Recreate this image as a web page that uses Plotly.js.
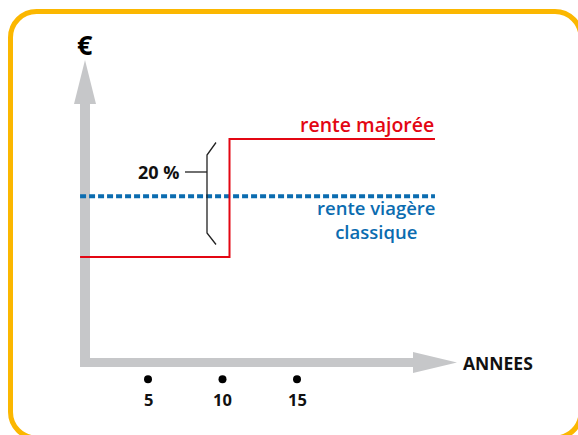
<!DOCTYPE html>
<html>
<head>
<meta charset="utf-8">
<script src="https://cdn.plot.ly/plotly-3.0.1.min.js"></script>
<style>html,body{margin:0;padding:0;background:#fff;}#chart{width:578px;height:435px;}</style>
</head>
<body>
<div id="chart"></div>
<script>
// ---- data ----
const tickYears = [5, 10, 15];
const tickLabels = ['5', '10', '15'];
const majoreeYears = [0.44, 10.47, 24.26];
const majoreeValues = [100, 120, 120];
const classiqueYears = [0.44, 24.26];
const classiqueValues = [110.3, 110.3];
const majoreeName = 'rente majorée';
const classiqueNameLines = ['rente viagère', 'classique'];
const axisLabels = ['€', 'ANNEES'];
const increaseLabel = '20 %';

// ---- layout helpers (pixel -> paper) ----
const W = 578, H = 435;
const px = x => x / W;
const py = y => 1 - y / H;
const FONT = '"Open Sans", "Noto Sans", sans-serif';
const RED = '#e30613', BLUE = '#0b6cb0', GREY = '#c6c7c9', ORANGE = '#fbb700';

function pathPx(pts, close) {
  return 'M' + pts.map(p => px(p[0]).toFixed(5) + ',' + py(p[1]).toFixed(5)).join(' L') + (close ? ' Z' : '');
}
function roundRect(l, t, r, b, rad) {
  const k = 0.5523 * rad;
  const P = (x, y) => px(x).toFixed(5) + ',' + py(y).toFixed(5);
  return 'M' + P(l + rad, t) + ' L' + P(r - rad, t) +
    ' C' + P(r - rad + k, t) + ' ' + P(r, t + rad - k) + ' ' + P(r, t + rad) +
    ' L' + P(r, b - rad) +
    ' C' + P(r, b - rad + k) + ' ' + P(r - rad + k, b) + ' ' + P(r - rad, b) +
    ' L' + P(l + rad, b) +
    ' C' + P(l + rad - k, b) + ' ' + P(l, b - rad + k) + ' ' + P(l, b - rad) +
    ' L' + P(l, t + rad) +
    ' C' + P(l, t + rad - k) + ' ' + P(l + rad - k, t) + ' ' + P(l + rad, t) + ' Z';
}

const dotLevel = 79.3;

const traces = [
  {x: classiqueYears, y: classiqueValues, mode: 'lines', type: 'scatter',
   line: {color: BLUE, width: 4, dash: '6px,3px'}, hoverinfo: 'skip'},
  {x: majoreeYears, y: majoreeValues, mode: 'lines', type: 'scatter',
   line: {color: RED, width: 2, shape: 'hv'}, hoverinfo: 'skip'},
  {x: tickYears, y: tickYears.map(() => dotLevel), mode: 'markers', type: 'scatter',
   marker: {color: '#000', size: 8}, hoverinfo: 'skip'}
];

const shapes = [
  {type: 'path', xref: 'paper', yref: 'paper', path: roundRect(10.5, 11.5, 581, 438, 26),
   line: {color: ORANGE, width: 5}, fillcolor: 'rgba(0,0,0,0)', layer: 'below'},
  // y axis arrow
  {type: 'path', xref: 'paper', yref: 'paper', path: pathPx([[80,103],[90,103],[90,367],[80,367]], true),
   line: {width: 0}, fillcolor: GREY, layer: 'below'},
  {type: 'path', xref: 'paper', yref: 'paper', path: pathPx([[74,104],[85,60],[96,104]], true),
   line: {width: 0}, fillcolor: GREY, layer: 'below'},
  // x axis arrow
  {type: 'path', xref: 'paper', yref: 'paper', path: pathPx([[80,358],[414,358],[414,367],[80,367]], true),
   line: {width: 0}, fillcolor: GREY, layer: 'below'},
  {type: 'path', xref: 'paper', yref: 'paper', path: pathPx([[413,352],[457,362.5],[413,373]], true),
   line: {width: 0}, fillcolor: GREY, layer: 'below'},
  // brace
  {type: 'path', xref: 'paper', yref: 'paper',
   path: pathPx([[216,142.5],[207,155],[207,233],[216,244.5]], false),
   line: {color: '#222', width: 1.3}, fillcolor: 'rgba(0,0,0,0)'},
  {type: 'path', xref: 'paper', yref: 'paper', path: pathPx([[185,172],[207,172]], false),
   line: {color: '#222', width: 1.3}}
];

const annotations = [
  {xref: 'paper', yref: 'paper', x: px(85), y: py(44), text: axisLabels[0], showarrow: false,
   xanchor: 'center', yanchor: 'middle', font: {family: FONT, size: 27, color: '#000', weight: 700}},
  {xref: 'paper', yref: 'paper', x: px(461), y: py(363), text: axisLabels[1], showarrow: false,
   xanchor: 'left', yanchor: 'middle', font: {family: FONT, size: 17.5, color: '#111', weight: 700}},
  {xref: 'paper', yref: 'paper', x: px(181), y: py(172), text: increaseLabel, showarrow: false,
   xanchor: 'right', yanchor: 'middle', font: {family: FONT, size: 18, color: '#111', weight: 700}},
  {xref: 'paper', yref: 'paper', x: px(436), y: py(125), text: majoreeName, showarrow: false,
   xanchor: 'right', yanchor: 'middle', font: {family: FONT, size: 19.5, color: RED, weight: 600}},
  {xref: 'paper', yref: 'paper', x: px(376.5), y: py(219), text: classiqueNameLines.join('<br>'),
   showarrow: false, xanchor: 'center', yanchor: 'middle', align: 'center', borderpad: 0,
   font: {family: FONT, size: 18.5, color: BLUE, weight: 600}}
].concat(tickYears.map((t, i) => ({
  xref: 'x', yref: 'paper', x: t, y: py(399), text: tickLabels[i], showarrow: false,
  xanchor: 'center', yanchor: 'middle', font: {family: FONT, size: 16.5, color: '#111', weight: 700}
})));

const layout = {
  width: W, height: H,
  margin: {l: 0, r: 0, t: 0, b: 0, pad: 0},
  paper_bgcolor: '#fff', plot_bgcolor: 'rgba(0,0,0,0)',
  showlegend: false,
  xaxis: {range: [-73.5 / 14.9, (W - 73.5) / 14.9], visible: false, fixedrange: true},
  yaxis: {range: [100 - 178 / 5.9, 100 + 257 / 5.9], visible: false, fixedrange: true},
  shapes: shapes,
  annotations: annotations
};

Plotly.newPlot('chart', traces, layout, {displayModeBar: false, staticPlot: true});
</script>
</body>
</html>
